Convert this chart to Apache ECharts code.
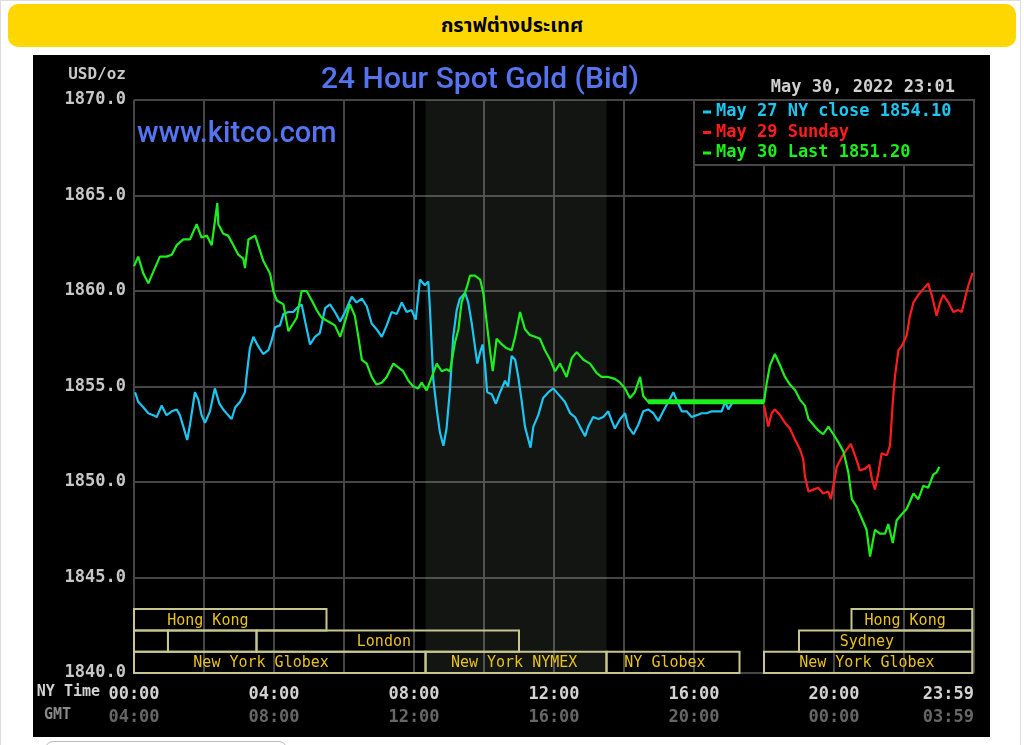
<!DOCTYPE html>
<html>
<head>
<meta charset="utf-8">
<title>กราฟต่างประเทศ</title>
<script src="https://cdn.jsdelivr.net/npm/echarts@6/dist/echarts.min.js"></script>
<style>
  html, body { margin: 0; padding: 0; background: #fff; width: 1024px; height: 745px; overflow: hidden; }
  #frame { position: absolute; left: 0; top: 0; width: 1021px; height: 770px; border: 1px solid #ddd; box-sizing: border-box; }
  #bar { position: absolute; left: 8px; top: 4px; width: 1008px; height: 43px; background: #FFD700; border-radius: 10px;
         display: flex; align-items: center; justify-content: center; font: bold 20px "Noto Sans Thai", "Noto Sans", "DejaVu Sans", sans-serif; color: #000; }
  #chart { position: absolute; left: 33px; top: 55px; width: 957px; height: 682px; background: #000; }
  #btn { position: absolute; left: 45px; top: 741px; width: 240px; height: 20px; border: 1px solid #bbb; border-radius: 8px; }
</style>
</head>
<body>
<div id="frame"></div>
<div id="bar">กราฟต่างประเทศ</div>
<div id="chart"></div>
<div id="btn"></div>
<script>
// ---- data (hours are New York time, values USD/oz) ----
const cyanName = 'May 27 NY close 1854.10';
const redName = 'May 29 Sunday';
const greenName = 'May 30 Last 1851.20';

const cyanHours = [0.03,0.12,0.27,0.41,0.55,0.65,0.79,0.93,1.08,1.22,
  1.31,1.41,1.52,1.60,1.74,1.84,1.93,2.03,2.17,2.31,
  2.44,2.55,2.69,2.79,2.89,3.03,3.17,3.22,3.31,3.41,
  3.55,3.69,3.84,3.93,4.03,4.17,4.27,4.41,4.55,4.65,
  4.79,4.89,5.03,5.17,5.31,5.46,5.60,5.74,5.89,6.03,
  6.22,6.36,6.51,6.65,6.79,6.93,7.08,7.22,7.36,7.51,
  7.65,7.79,7.93,8.05,8.17,8.31,8.41,8.46,8.55,8.65,
  8.74,8.84,8.93,9.03,9.12,9.22,9.31,9.46,9.55,9.65,
  9.74,9.81,9.89,9.96,10.03,10.09,10.22,10.34,10.46,10.60,
  10.69,10.79,10.89,10.98,11.08,11.17,11.27,11.33,11.41,11.55,
  11.69,11.84,11.98,12.12,12.31,12.46,12.60,12.74,12.89,12.98,
  13.12,13.27,13.41,13.55,13.65,13.74,13.89,14.03,14.12,14.27,
  14.41,14.55,14.69,14.84,14.98,15.12,15.27,15.41,15.55,15.65,
  15.79,15.93,16.08,16.22,16.36,16.51,16.65,16.79,16.89,16.98,
  17.08];
const cyanValues = [1854.7,1854.2,1853.9,1853.6,1853.5,1853.4,1854.0,1853.5,1853.7,1853.8,
  1853.5,1852.9,1852.2,1853.0,1854.7,1854.3,1853.5,1853.1,1853.7,1854.9,
  1854.1,1853.8,1853.5,1853.3,1853.9,1854.2,1854.7,1855.6,1857.0,1857.6,
  1857.1,1856.7,1856.9,1857.4,1858.1,1858.2,1858.8,1858.9,1858.9,1859.1,
  1859.3,1858.4,1857.2,1857.6,1857.8,1859.1,1859.3,1858.9,1858.4,1858.9,
  1859.7,1859.4,1859.6,1859.2,1858.3,1858.0,1857.6,1858.2,1858.9,1858.8,
  1859.4,1858.9,1859.0,1858.5,1860.6,1860.3,1860.5,1858.9,1855.4,1853.8,
  1852.6,1851.9,1852.8,1854.9,1857.6,1859.0,1859.6,1859.9,1859.4,1858.3,
  1857.1,1856.2,1856.8,1857.2,1856.1,1854.7,1854.6,1854.1,1854.7,1855.3,
  1855.0,1856.6,1856.4,1855.5,1854.2,1852.9,1852.2,1851.8,1852.9,1853.5,
  1854.4,1854.7,1854.9,1854.6,1854.2,1853.6,1853.4,1852.9,1852.4,1852.9,
  1853.4,1853.3,1853.4,1853.7,1853.2,1852.8,1853.3,1853.6,1852.9,1852.5,
  1853.0,1853.7,1853.8,1853.6,1853.2,1853.7,1854.2,1854.7,1854.1,1853.7,
  1853.7,1853.4,1853.5,1853.6,1853.6,1853.7,1853.7,1853.7,1854.2,1853.8,
  1854.1];

const greenHours = [0.00,0.12,0.27,0.41,0.55,0.74,0.93,1.08,1.22,1.41,
  1.60,1.79,1.93,2.08,2.22,2.38,2.41,2.55,2.69,2.84,
  2.98,3.12,3.17,3.27,3.46,3.55,3.69,3.89,3.98,4.08,
  4.27,4.41,4.55,4.65,4.79,4.93,5.08,5.22,5.36,5.55,
  5.74,5.89,6.03,6.17,6.31,6.41,6.51,6.65,6.79,6.93,
  7.08,7.22,7.41,7.55,7.69,7.84,7.98,8.12,8.22,8.36,
  8.51,8.65,8.79,8.93,9.03,9.17,9.27,9.36,9.51,9.60,
  9.74,9.89,9.98,10.08,10.17,10.25,10.36,10.51,10.65,10.79,
  10.89,11.03,11.17,11.31,11.46,11.60,11.74,11.89,12.03,12.17,
  12.36,12.51,12.65,12.84,13.03,13.22,13.36,13.55,13.74,13.89,
  14.03,14.17,14.31,14.46,14.55,14.69,18.00,18.08,18.17,18.31,
  18.46,18.60,18.74,18.89,19.03,19.17,19.27,19.41,19.55,19.69,
  19.84,19.98,20.12,20.27,20.41,20.51,20.65,20.79,20.93,21.03,
  21.17,21.31,21.46,21.55,21.68,21.79,21.93,22.08,22.27,22.41,
  22.55,22.69,22.84,22.93,23.01];
const greenValues = [1861.3,1861.8,1860.9,1860.4,1861.0,1861.8,1861.8,1861.9,1862.4,1862.7,
  1862.7,1863.5,1862.8,1862.9,1862.4,1864.6,1863.5,1863.0,1862.9,1862.4,
  1861.9,1861.7,1861.2,1862.7,1862.9,1862.4,1861.6,1860.9,1860.0,1859.5,
  1859.3,1857.9,1858.3,1858.6,1860.0,1860.0,1859.5,1859.0,1858.6,1858.4,
  1858.2,1857.6,1858.4,1859.3,1858.7,1857.6,1856.4,1856.2,1855.5,1855.1,
  1855.2,1855.5,1856.2,1856.0,1855.8,1855.3,1855.0,1854.9,1855.2,1854.8,
  1855.5,1856.2,1855.8,1855.9,1855.8,1857.3,1858.0,1859.4,1860.2,1860.8,
  1860.8,1860.6,1859.9,1858.3,1856.9,1855.8,1857.5,1857.2,1857.0,1856.9,
  1857.6,1858.9,1858.0,1857.7,1857.6,1857.5,1856.9,1856.4,1855.8,1856.2,
  1855.5,1856.5,1856.8,1856.4,1856.2,1855.7,1855.5,1855.5,1855.4,1855.2,
  1854.9,1854.4,1854.7,1855.5,1854.5,1854.2,1854.2,1855.2,1856.1,1856.7,
  1856.1,1855.5,1855.1,1854.8,1854.3,1854.0,1853.3,1853.0,1852.7,1852.5,
  1852.9,1852.5,1852.1,1851.6,1850.5,1849.1,1848.7,1848.1,1847.5,1846.1,
  1847.5,1847.3,1847.3,1847.8,1846.8,1848.0,1848.3,1848.6,1849.4,1849.1,
  1849.8,1849.7,1850.4,1850.5,1850.8];

const redHours = [18.00,18.08,18.12,18.22,18.31,18.46,18.60,18.74,18.89,19.03,
  19.12,19.17,19.27,19.41,19.55,19.69,19.84,19.91,19.98,20.08,
  20.22,20.36,20.48,20.60,20.74,20.89,21.01,21.08,21.17,21.27,
  21.36,21.51,21.60,21.68,21.74,21.84,21.93,22.08,22.17,22.27,
  22.41,22.55,22.69,22.82,22.93,23.03,23.12,23.27,23.41,23.55,
  23.65,23.74,23.84,23.96];
const redValues = [1854.0,1853.3,1852.9,1853.6,1853.8,1853.5,1853.1,1852.8,1852.2,1851.7,
  1851.2,1850.3,1849.5,1849.6,1849.7,1849.4,1849.5,1849.1,1849.8,1850.8,
  1851.3,1851.7,1852.0,1851.4,1850.6,1850.7,1850.9,1850.2,1849.6,1850.5,
  1851.5,1851.4,1851.9,1854.2,1855.5,1856.9,1857.1,1857.7,1858.7,1859.4,
  1859.8,1860.1,1860.4,1859.6,1858.7,1859.4,1859.8,1859.4,1858.9,1859.0,
  1858.9,1859.6,1860.3,1860.95];

// market sessions (NY hours), row 0 = top row
const sessionNames   = ['Hong Kong', '', '', 'London', 'New York Globex', 'New York NYMEX', 'NY Globex', 'New York Globex', 'Hong Kong', 'Sydney'];
const sessionRow     = [0, 1, 1, 1, 2, 2, 2, 2, 0, 1];
const sessionStart   = [0, 0, 0.97, 3.5, 0, 8.33, 13.5, 18, 20.5, 19];
const sessionEnd     = [5.5, 0.97, 3.5, 11, 8.33, 13.5, 17.3, 23.95, 23.95, 23.95];
const sessionLabelAt = [2.11, 0.5, 2.2, 7.14, 3.63, 10.86, 15.17, 20.94, 22.03, 20.94];
const nymexStart = 8.33, nymexEnd = 13.5;

// axis tick labels
const xTicks = [0, 4, 8, 12, 16, 20, 24];
const nyTickLabels  = ['00:00', '04:00', '08:00', '12:00', '16:00', '20:00', '23:59'];
const gmtTickLabels = ['04:00', '08:00', '12:00', '16:00', '20:00', '00:00', '03:59'];
const yTicks = [1840, 1845, 1850, 1855, 1860, 1865, 1870];
const yTickLabels = ['1840.0', '1845.0', '1850.0', '1855.0', '1860.0', '1865.0', '1870.0'];

// ---- chart ----
const zip = (a, b) => a.map((h, i) => [h, b[i]]);
const greenData = zip(greenHours, greenValues);
const flatData = greenData.filter(p => p[0] >= 14.69 && p[0] <= 18.0);

const MONO = '"DejaVu Sans Mono", "Liberation Mono", monospace';
const SANS = 'Roboto, "Liberation Sans", Arial, sans-serif';
const GRID = '#454545';
const cyan = '#1cc6f2', red = '#ff1c1c', green = '#1cf01c';

const chart = echarts.init(document.getElementById('chart'), null, { renderer: 'canvas' });
chart.setOption({
  backgroundColor: '#000',
  animation: false,
  grid: { left: 101, top: 45, width: 840, height: 573, containLabel: false, outerBoundsMode: 'none' },
  xAxis: {
    type: 'value', min: 0, max: 24, interval: 2,
    axisLine: { show: false }, axisTick: { show: false },
    splitLine: { show: true, lineStyle: { color: GRID, width: 2 } },
    axisLabel: {
      showMaxLabel: true, showMinLabel: true, hideOverlap: false, margin: 10,
      alignMaxLabel: 'right',
      formatter: v => {
        const i = xTicks.indexOf(v);
        if (i < 0) return '';
        return '{a|' + nyTickLabels[i] + '}\n{b|' + gmtTickLabels[i] + '}';
      },
      rich: {
        a: { color: '#d2d2d2', fontFamily: MONO, fontWeight: 'bold', fontSize: 17, lineHeight: 23 },
        b: { color: '#666666', fontFamily: MONO, fontWeight: 'bold', fontSize: 17, lineHeight: 23 }
      }
    }
  },
  yAxis: {
    type: 'value', min: 1840, max: 1870, interval: 5,
    axisLine: { show: false }, axisTick: { show: false },
    splitLine: { show: true, lineStyle: { color: GRID, width: 2 } },
    axisLabel: {
      margin: 8, color: '#c8c8c8', fontFamily: MONO, fontWeight: 'bold', fontSize: 17,
      formatter: v => yTickLabels[yTicks.indexOf(v)]
    }
  },
  legend: {
    orient: 'vertical', left: 670, top: 47, padding: 0, itemGap: 0.5,
    itemWidth: 8, itemHeight: 3, icon: 'rect', z: 60, selectedMode: false,
    textStyle: { fontFamily: MONO, fontWeight: 'bold', fontSize: 17, lineHeight: 20 },
    data: [
      { name: cyanName, textStyle: { color: cyan } },
      { name: redName, textStyle: { color: red } },
      { name: greenName, textStyle: { color: green } }
    ]
  },
  graphic: [
    { type: 'rect', z: 50, shape: { x: 661, y: 45, width: 280, height: 65 },
      style: { fill: '#000', stroke: GRID, lineWidth: 2 } },
    { type: 'text', x: 93, y: 20, style: { text: 'USD/oz', fill: '#c8c8c8', font: 'bold 16px ' + MONO, align: 'right', verticalAlign: 'middle' } },
    { type: 'text', x: 447, y: 25, style: { text: '24 Hour Spot Gold (Bid)', fill: '#5474f2', font: '500 30px ' + SANS, align: 'center', verticalAlign: 'middle' } },
    { type: 'text', x: 104, y: 80, z: 5, style: { text: 'www.kitco.com', fill: '#5474f2', font: '500 29px ' + SANS, align: 'left', verticalAlign: 'middle' } },
    { type: 'text', x: 922, y: 33, style: { text: 'May 30, 2022 23:01', fill: '#d0d0d0', font: 'bold 17px ' + MONO, align: 'right', verticalAlign: 'middle' } },
    { type: 'text', x: 67, y: 637, style: { text: 'NY Time', fill: '#d2d2d2', font: 'bold 15px ' + MONO, align: 'right', verticalAlign: 'middle' } },
    { type: 'text', x: 38, y: 660, style: { text: 'GMT', fill: '#8a8a8a', font: 'bold 15px ' + MONO, align: 'right', verticalAlign: 'middle' } }
  ],
  series: [
    { type: 'line', name: 'nymex', data: [], z: 1, silent: true,
      markArea: { silent: true, itemStyle: { color: 'rgba(200,230,200,0.09)' },
        data: [[{ xAxis: nymexStart }, { xAxis: nymexEnd }]] } },
    { type: 'custom', name: 'sessions', z: 3, silent: true, clip: false,
      data: sessionStart.map((s, i) => [s, sessionEnd[i], sessionRow[i], sessionLabelAt[i]]),
      encode: { x: [0, 1, 3], y: 2 },
      renderItem: (params, api) => {
        const cs = params.coordSys;
        const x1 = api.coord([api.value(0), 1840])[0];
        const x2 = api.coord([api.value(1), 1840])[0];
        const lx = api.coord([api.value(3), 1840])[0];
        const rowH = 21.3;
        const bottom = cs.y + cs.height;
        const top = bottom - (3 - api.value(2)) * rowH;
        return { type: 'group', children: [
          { type: 'rect', shape: { x: x1, y: top, width: x2 - x1, height: rowH },
            style: { fill: null, stroke: '#c6c68e', lineWidth: 2 } },
          { type: 'text', style: { x: lx, y: top + rowH / 2 + 1, text: sessionNames[params.dataIndex],
            fill: '#e8c21c', font: '15px ' + MONO, align: 'center', verticalAlign: 'middle' } }
        ] };
      } },
    { type: 'line', name: cyanName, data: zip(cyanHours, cyanValues), color: cyan, symbol: 'none', z: 4,
      lineStyle: { width: 2.2, color: cyan } },
    { type: 'line', name: redName, data: zip(redHours, redValues), color: red, symbol: 'none', z: 5,
      lineStyle: { width: 2.2, color: red } },
    { type: 'line', name: greenName, data: greenData, color: green, symbol: 'none', z: 6,
      lineStyle: { width: 2.2, color: green } },
    { type: 'line', name: 'flat', data: flatData, color: green, symbol: 'none', z: 6, silent: true,
      lineStyle: { width: 5, color: green } }
  ]
});
</script>
</body>
</html>
